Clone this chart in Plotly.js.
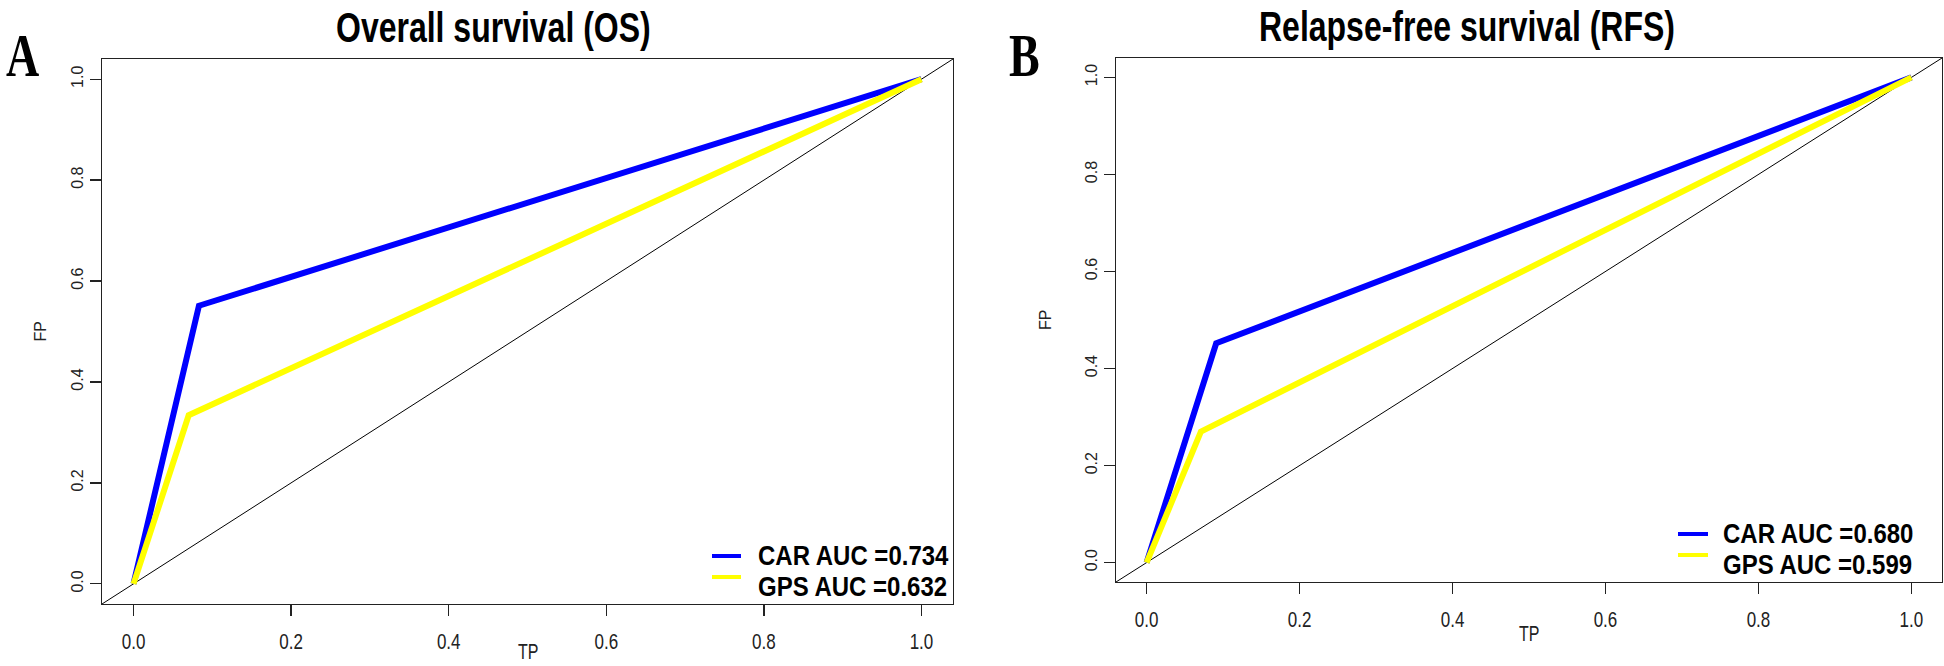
<!DOCTYPE html>
<html><head><meta charset="utf-8">
<script src="https://cdn.plot.ly/plotly-3.0.1.min.js"></script>
<style>html,body{margin:0;padding:0;background:#fff}#chart{width:1944px;height:666px}</style>
</head><body><div id="chart"></div><script>
const tickVals = [0, 0.2, 0.4, 0.6, 0.8, 1.0];
const tickText = ['0.0', '0.2', '0.4', '0.6', '0.8', '1.0'];
const osCarTP = [0, 0.083, 1];
const osCarFP = [0, 0.551, 1];
const osGpsTP = [0, 0.070, 1];
const osGpsFP = [0, 0.334, 1];
const rfsCarTP = [0, 0.091, 1];
const rfsCarFP = [0, 0.452, 1];
const rfsGpsTP = [0, 0.071, 1];
const rfsGpsFP = [0, 0.270, 1];
const refLine = [-0.04, 1.04];
const osNames = ['CAR AUC =0.734', 'GPS AUC =0.632'];
const rfsNames = ['CAR AUC =0.680', 'GPS AUC =0.599'];
const panelTitles = ['Overall survival (OS)', 'Relapse-free survival (RFS)'];
const panelLetters = ['A', 'B'];
const axisTitles = ['TP', 'FP'];

const BLUE = '#0000FF', YEL = '#FFFF00', INK = '#222222';
const W = 1944, H = 666;
const STRETCH = 1.35, LEG_STRETCH = 1.12;
const px = v => v / W;
const py = v => (H - v) / H;

const traces = [
  {x: refLine, y: refLine, xaxis: 'x', yaxis: 'y', mode: 'lines', line: {color: '#000', width: 1}, showlegend: false, hoverinfo: 'skip'},
  {x: osCarTP, y: osCarFP, xaxis: 'x', yaxis: 'y', mode: 'lines', name: osNames[0], line: {color: BLUE, width: 6}, showlegend: false},
  {x: osGpsTP, y: osGpsFP, xaxis: 'x', yaxis: 'y', mode: 'lines', name: osNames[1], line: {color: YEL, width: 6}, showlegend: false},
  {x: refLine, y: refLine, xaxis: 'x2', yaxis: 'y2', mode: 'lines', line: {color: '#000', width: 1}, showlegend: false, hoverinfo: 'skip'},
  {x: rfsCarTP, y: rfsCarFP, xaxis: 'x2', yaxis: 'y2', mode: 'lines', name: rfsNames[0], line: {color: BLUE, width: 6}, showlegend: false},
  {x: rfsGpsTP, y: rfsGpsFP, xaxis: 'x2', yaxis: 'y2', mode: 'lines', name: rfsNames[1], line: {color: YEL, width: 6}, showlegend: false}
];

function axis(domain, anchor, isY) {
  return {
    domain: domain, anchor: anchor, range: [-0.04, 1.04],
    tickmode: 'array', tickvals: tickVals, ticktext: tickText,
    ticks: 'outside', ticklen: 11, tickwidth: 1.3, tickcolor: INK,
    showline: true, linecolor: INK, linewidth: 1.3, mirror: true,
    showgrid: false, zeroline: false, fixedrange: true,
    tickangle: isY ? -90 : 0, ticklabelstandoff: isY ? 0 : 10,
    tickfont: {family: 'Liberation Sans, Arial, sans-serif', size: isY ? 16 : 17, color: INK}
  };
}

const boxA = {l: 102, r: 953, t: 59, b: 604};
const boxB = {l: 1116, r: 1942, t: 58, b: 582};

const titleFont = {family: 'Liberation Sans, Arial, sans-serif', size: 32, color: '#000', weight: 'bold'};
const letterFont = {family: 'Liberation Serif, Times New Roman, serif', size: 46, color: '#000', weight: 'bold'};
const labFont = {family: 'Liberation Sans, Arial, sans-serif', size: 16, color: INK};
const legFont = {family: 'Liberation Sans, Arial, sans-serif', size: 24, color: '#000', weight: 'bold'};

function ann(text, x, y, font, xanchor, angle) {
  return {text: text, x: px(x), y: py(y), xref: 'paper', yref: 'paper', xanchor: xanchor || 'center', yanchor: 'middle',
          align: 'left', textangle: angle || 0, showarrow: false, font: font};
}

// legend layout (positions only): keys, text left edge, centre of the two rows, row spacing
const ROW_GAP = 31;
const legA = {key0: 712, key1: 741, text: 756, mid: 571, keyY: [556, 577]};
const legB = {key0: 1678, key1: 1708, text: 1721, mid: 549, keyY: [534, 555]};

const annotations = [
  ann(panelTitles[0], 493, 27, titleFont),
  ann(panelTitles[1], 1467, 26, titleFont),
  ann(panelLetters[0], 4, 56, letterFont, 'left'),
  ann(panelLetters[1], 1007, 56, letterFont, 'left'),
  ann(axisTitles[0], (boxA.l + boxA.r) / 2, 651, labFont),
  ann(axisTitles[0], (boxB.l + boxB.r) / 2, 633, labFont),
  ann(axisTitles[1], 40, (boxA.t + boxA.b) / 2, labFont, 'center', -90),
  ann(axisTitles[1], 1045, (boxB.t + boxB.b) / 2, labFont, 'center', -90),
  ann(osNames.join('<br>'), legA.text, legA.mid, legFont, 'left'),
  ann(rfsNames.join('<br>'), legB.text, legB.mid, legFont, 'left')
];
const stretchIdx = [0, 1, 2, 3, 4, 5];
const legendIdx = {8: legA.mid, 9: legB.mid};

function key(leg, i, color) {
  return {type: 'line', xref: 'paper', yref: 'paper', x0: px(leg.key0), x1: px(leg.key1), y0: py(leg.keyY[i]), y1: py(leg.keyY[i]),
          line: {color: color, width: 4}};
}
const shapes = [key(legA, 0, BLUE), key(legA, 1, YEL), key(legB, 0, BLUE), key(legB, 1, YEL)];

const layout = {
  width: W, height: H, margin: {l: 0, r: 0, t: 0, b: 0},
  paper_bgcolor: '#fff', plot_bgcolor: '#fff',
  xaxis: axis([px(boxA.l), px(boxA.r)], 'y', false),
  yaxis: axis([py(boxA.b), py(boxA.t)], 'x', true),
  xaxis2: axis([px(boxB.l), px(boxB.r)], 'y2', false),
  yaxis2: axis([py(boxB.b), py(boxB.t)], 'x2', true),
  annotations: annotations,
  shapes: shapes,
  showlegend: false
};

// vertical stretch of horizontal texts (the reference glyphs are tall and narrow)
function stretchEl(t, s, targetCy, svgTop) {
  const g = document.createElementNS('http://www.w3.org/2000/svg', 'g');
  t.parentNode.insertBefore(g, t);
  g.appendChild(t);
  const bb = g.getBBox();
  const cy = bb.y + bb.height / 2;
  let shift = 0;
  if (targetCy !== undefined) {
    const r = g.getBoundingClientRect();
    shift = targetCy - ((r.top + r.bottom) / 2 - svgTop);
  }
  g.setAttribute('transform', 'translate(0,' + (cy + shift) + ') scale(1,' + s + ') translate(0,' + (-cy) + ')');
}

Plotly.newPlot('chart', traces, layout, {displayModeBar: false, staticPlot: true}).then(function (gd) {
  const svgTop = gd.querySelector('svg.main-svg').getBoundingClientRect().top;
  gd.querySelectorAll('g.xtick text, g.x2tick text').forEach(function (t) { stretchEl(t, STRETCH); });
  gd.querySelectorAll('g.annotation').forEach(function (a) {
    const i = +a.getAttribute('data-index');
    if (stretchIdx.indexOf(i) >= 0) a.querySelectorAll('text').forEach(function (t) { stretchEl(t, STRETCH); });
    if (legendIdx[i] !== undefined) {
      a.querySelectorAll('text').forEach(function (t) {
        const lines = t.querySelectorAll('tspan.line');
        for (let k = 1; k < lines.length; k++) lines[k].setAttribute('dy', (ROW_GAP / LEG_STRETCH / legFont.size) + 'em');
        stretchEl(t, LEG_STRETCH, legendIdx[i], svgTop);
      });
    }
  });
});
</script></body></html>
